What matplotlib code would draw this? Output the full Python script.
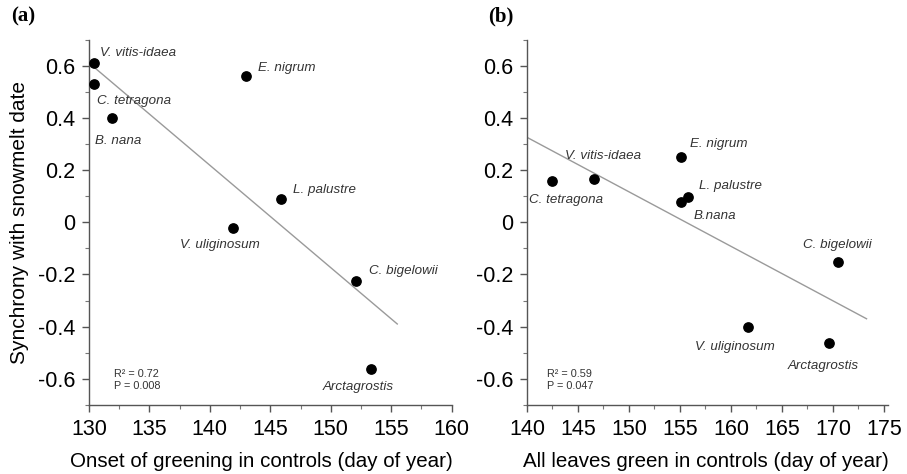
import numpy as np
import matplotlib
matplotlib.use("Agg")
import matplotlib.pyplot as plt
from matplotlib.ticker import MultipleLocator

plt.rcParams["font.family"] = ["Liberation Sans", "DejaVu Sans"]

# panel (a): onset of greening vs synchrony
species_a = ["V. vitis-idaea", "C. tetragona", "B. nana", "E. nigrum",
             "L. palustre", "V. uliginosum", "C. bigelowii", "Arctagrostis"]
x_a = [130.4, 130.4, 131.9, 143.0, 145.9, 141.9, 152.1, 153.3]
y_a = [0.61, 0.53, 0.40, 0.56, 0.088, -0.02, -0.226, -0.564]
lab_xy_a = [(130.9, 0.65), (130.7, 0.467), (130.5, 0.31), (144.0, 0.59),
            (146.9, 0.123), (137.5, -0.088), (153.2, -0.188), (149.3, -0.632)]
fit_x_a = [130.3, 155.5]
fit_y_a = [0.60, -0.39]
stats_a = "R² = 0.72\nP = 0.008"

# panel (b): all leaves green vs synchrony
species_b = ["C. tetragona", "V. vitis-idaea", "E. nigrum", "B.nana",
             "L. palustre", "C. bigelowii", "V. uliginosum", "Arctagrostis"]
x_b = [142.5, 146.6, 155.1, 155.1, 155.8, 170.5, 161.7, 169.6]
y_b = [0.157, 0.168, 0.249, 0.077, 0.096, -0.153, -0.40, -0.464]
lab_xy_b = [(140.2, 0.084), (143.7, 0.253), (156.0, 0.30), (156.3, 0.023),
            (156.9, 0.138), (167.1, -0.088), (156.5, -0.479), (165.6, -0.552)]
fit_x_b = [140.0, 173.3]
fit_y_b = [0.326, -0.37]
stats_b = "R² = 0.59\nP = 0.047"


def draw_panel(ax, x, y, names, lab_xy, fx, fy, stats, stats_x, xlim, xlabel):
    ax.plot(fx, fy, color="#9a9a9a", lw=1.0, zorder=1)
    ax.scatter(x, y, s=45, color="black", zorder=3)
    for name, (tx, ty) in zip(names, lab_xy):
        ax.text(tx, ty, name, style="italic", fontsize=9.6, color="#333333",
                va="center", ha="left")
    ax.text(stats_x, -0.605, stats, fontsize=7.8, color="#333333",
            va="center", ha="left", linespacing=1.2)
    ax.set_xlim(*xlim)
    ax.set_ylim(-0.7, 0.7)
    ax.xaxis.set_major_locator(MultipleLocator(5))
    ax.xaxis.set_minor_locator(MultipleLocator(2.5))
    ax.yaxis.set_major_locator(MultipleLocator(0.2))
    ax.yaxis.set_minor_locator(MultipleLocator(0.1))
    ax.yaxis.set_major_formatter(
        plt.FuncFormatter(lambda v, p: "0" if abs(v) < 1e-9 else f"{v:.1f}"))
    for side in ("top", "right"):
        ax.spines[side].set_visible(False)
    for side in ("left", "bottom"):
        ax.spines[side].set_color("#555555")
        ax.spines[side].set_linewidth(1.0)
    ax.tick_params(which="major", length=5, width=1, color="#555555",
                   labelsize=15.5, pad=5)
    ax.tick_params(which="minor", length=3, width=0.8, color="#777777")
    ax.set_xlabel(xlabel, fontsize=14.8)


fig = plt.figure(figsize=(9.07, 4.74), dpi=100)
ax1 = fig.add_axes([0.098, 0.146, 0.40, 0.770])
ax2 = fig.add_axes([0.581, 0.146, 0.398, 0.770])

draw_panel(ax1, x_a, y_a, species_a, lab_xy_a, fit_x_a, fit_y_a, stats_a,
           132.1, (130, 160), "Onset of greening in controls (day of year)")
draw_panel(ax2, x_b, y_b, species_b, lab_xy_b, fit_x_b, fit_y_b, stats_b,
           142.0, (140, 175.4), "All leaves green in controls (day of year)")
ax1.set_ylabel("Synchrony with snowmelt date", fontsize=15, labelpad=6)
# the left x label sits a bit left of centre in the original
ax1.xaxis.set_label_coords(0.475, -0.128)
ax2.xaxis.set_label_coords(0.495, -0.128)

fig.text(0.012, 0.965, "(a)", fontsize=15, fontweight="bold",
         family=["Liberation Serif", "DejaVu Serif"], va="center")
fig.text(0.538, 0.965, "(b)", fontsize=15, fontweight="bold",
         family=["Liberation Serif", "DejaVu Serif"], va="center")

fig.savefig("out.png", dpi=100)
